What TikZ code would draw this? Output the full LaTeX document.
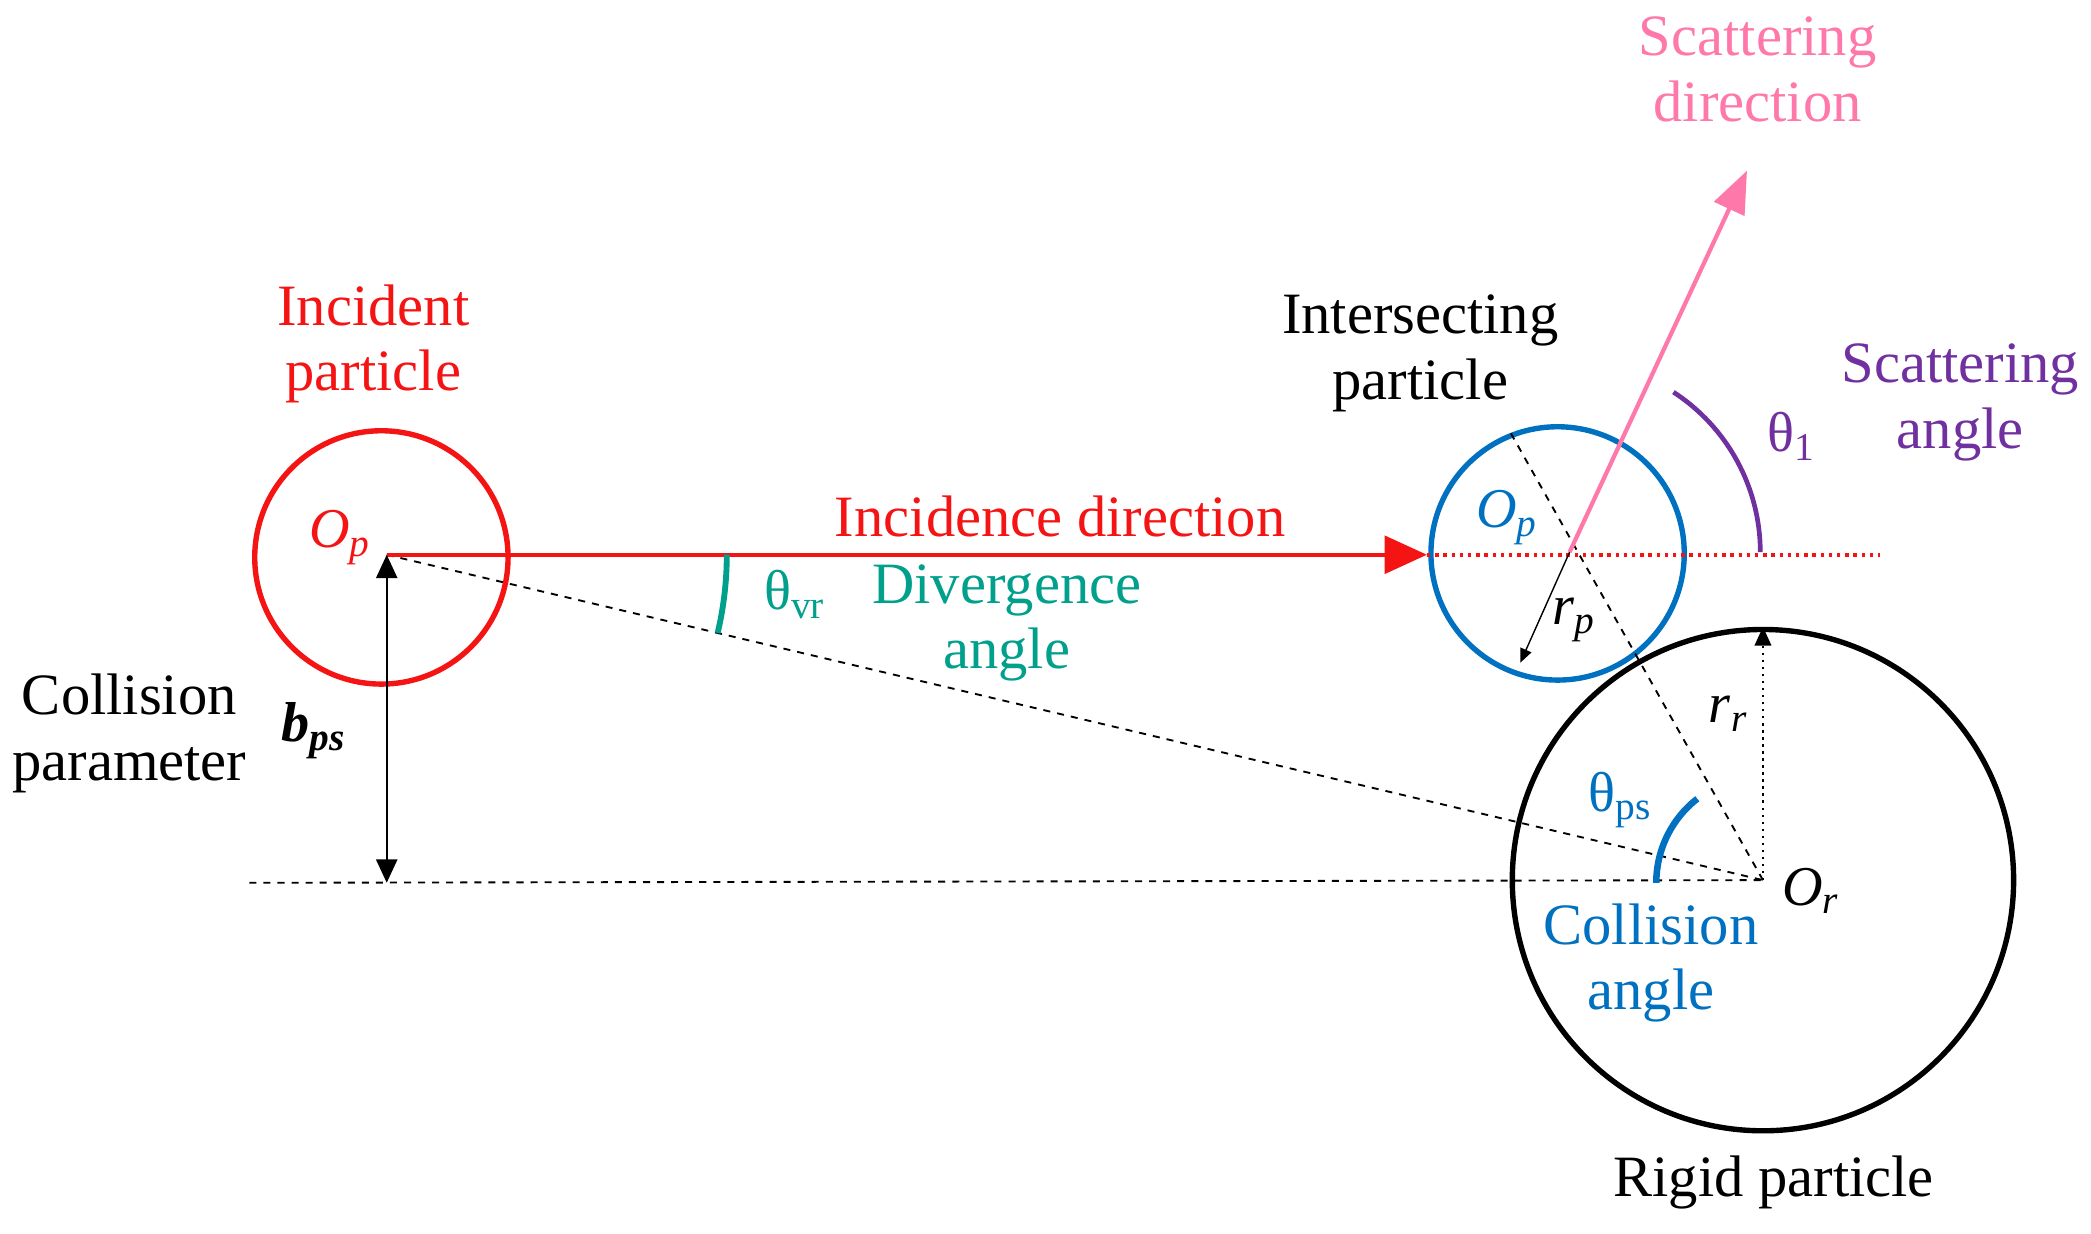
\documentclass[tikz,border=0pt]{standalone}
\usepackage{fontspec}
\setmainfont{Liberation Serif}
\usetikzlibrary{arrows.meta}
\definecolor{cred}{RGB}{245,20,20}
\definecolor{cblue}{RGB}{0,112,192}
\definecolor{cteal}{RGB}{0,160,140}
\definecolor{cpurple}{RGB}{112,48,160}
\definecolor{cpink}{RGB}{255,120,170}
\begin{document}
\begin{tikzpicture}[x=0.02cm,y=-0.02cm,
  lbl/.style={font=\fontsize{25}{28}\selectfont,align=center,inner sep=0pt},
  sm/.style={font=\fontsize{24}{28}\selectfont,inner sep=0pt},
  ring/.style={circle,draw,line width=2.3pt,inner sep=0pt}]
\useasboundingbox (0,0) rectangle (1568,925);
\coordinate (P) at (290,416);
\coordinate (B) at (1177,414);
\coordinate (R) at (1322,660);
\coordinate (E) at (1070,416);
\coordinate (D) at (1410,416);
\node[ring,draw=cred,minimum size=3.8cm] (c1) at (286,418) {};
\node[ring,draw=cblue,minimum size=3.8cm] (c2) at (1168,415) {};
\node[ring,draw=black,minimum size=7.52cm] (c3) at (1322,660) {};
% lines
\draw[dashed,line width=0.8pt] (187,662) coordinate (L) -- (R);
\draw[dashed,line width=0.8pt] (P) -- (R);
\draw[dashed,line width=0.8pt] (R) -- (1133,325) coordinate (T);
\draw[cred,line width=1.8pt,-{Triangle[length=18pt,width=16pt]}] (P) -- (E);
\draw[cred,dotted,line width=1.5pt] (E) -- (D);
\draw[cpink,line width=1.8pt,-{Triangle[length=18pt,width=14pt]}] (B) -- (1310,128) coordinate (S);
\draw[line width=1pt,{Triangle[length=10pt,width=9pt]}-{Triangle[length=10pt,width=9pt]}] (P) -- (290,662);
\draw[dotted,line width=1pt,-{Triangle[length=8pt,width=7pt]}] (R) -- (1322,470);
\draw[line width=0.6pt,-{Triangle[length=6pt,width=5pt]}] (B) -- (1140,497);
% arcs
\draw[cpurple,line width=2pt] (1320,414) arc[start angle=0,end angle=-57,radius=143];
\draw[cteal,line width=2.5pt] (545,416) arc[start angle=0,end angle=13.3,radius=255];
\draw[cblue,line width=2.8pt] (1242,662) arc[start angle=180,end angle=232,radius=80];
% labels
\node[lbl,text=cred] (t1) at (280,258) {Incident\\particle};
\node[lbl,text=cred] (t2) at (795,387) {Incidence direction};
\node[lbl] (t3) at (1065,265) {Intersecting\\particle};
\node[lbl,text=cpink] (t4) at (1318,52) {Scattering\\direction};
\node[lbl,text=cpurple] (t5) at (1470,302) {Scattering\\angle};
\node[sm,text=cpurple] (t6) at (1343,327) {θ\textsubscript{1}};
\node[lbl,text=cteal] (t7) at (755,467) {Divergence\\angle};
\node[sm,text=cteal] (t8) at (596,446) {θ\textsubscript{vr}};
\node[lbl,text=cblue] (t9) at (1238,722) {Collision\\angle};
\node[sm,text=cblue] (t10) at (1215,600) {θ\textsubscript{ps}};
\node[lbl] (t11) at (97,550) {Collision\\parameter};
\node[sm] (t12) at (235,548) {\textbf{\textit{b}}\textsubscript{\textbf{\textit{ps}}}};
\node[lbl] (t13) at (1330,887) {Rigid particle};
\node[sm,text=cred] (t14) at (255,403) {\textit{O}\textsubscript{\textit{p}}};
\node[sm,text=cblue] (t15) at (1130,388) {\textit{O}\textsubscript{\textit{p}}};
\node[sm] (t16) at (1358,668) {\textit{O}\textsubscript{\textit{r}}};
\node[sm] (t17) at (1180,465) {\textit{r}\textsubscript{\textit{p}}};
\node[sm] (t18) at (1296,535) {\textit{r}\textsubscript{\textit{r}}};
\end{tikzpicture}
\end{document}
